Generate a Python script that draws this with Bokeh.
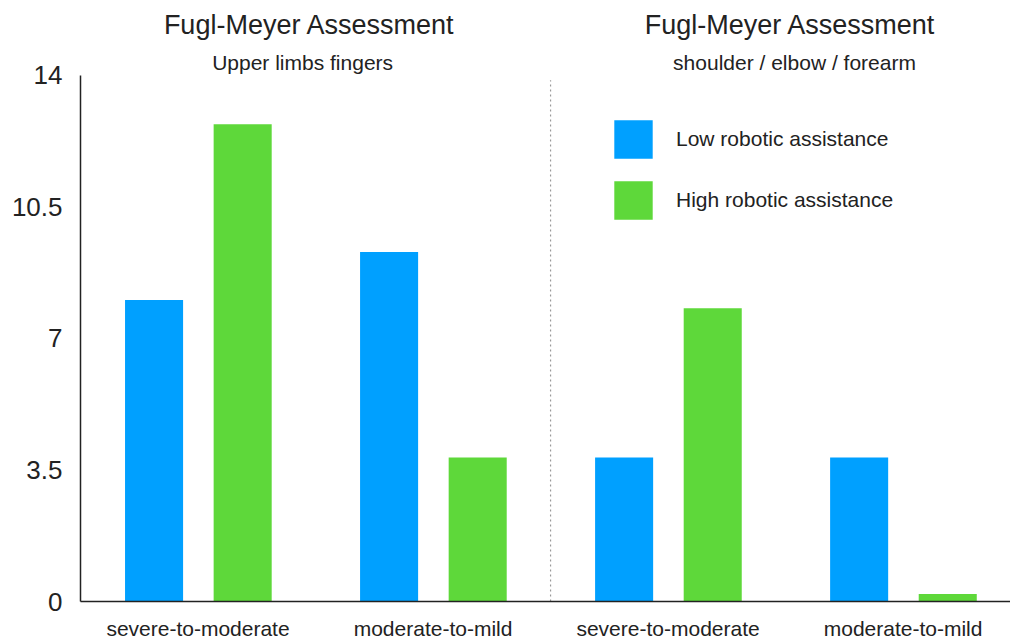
from bokeh.plotting import figure
from bokeh.models import (ColumnDataSource, Range1d, FixedTicker, Label, Legend,
                          LegendItem)
from bokeh.transform import dodge
from bokeh.embed import file_html
from bokeh.resources import INLINE

categories = ["severe-to-moderate", "moderate-to-mild",
              "severe-to-moderate", "moderate-to-mild"]
low_assist = [8.02, 9.3, 3.83, 3.83]
high_assist = [12.7, 3.83, 7.8, 0.2]
series_names = ["Low robotic assistance", "High robotic assistance"]
panel_titles = ["Fugl-Meyer Assessment", "Fugl-Meyer Assessment"]
panel_subtitles = ["Upper limbs fingers", "shoulder / elbow / forearm"]
y_ticks = [0, 3.5, 7, 10.5, 14]
y_tick_labels = ["0", "3.5", "7", "10.5", "14"]

FONT = "Liberation Sans"
TXT = "#222222"
BLUE = "#00A0FF"
GREEN = "#5ED83A"

idx = list(range(len(categories)))
src = ColumnDataSource(dict(x=idx, low=low_assist, high=high_assist))

p = figure(width=1010, height=642, output_backend="svg", toolbar_location=None,
           x_range=Range1d(-0.5, 3.457), y_range=Range1d(0, 15.99),
           min_border_left=80, min_border_right=0, min_border_top=0,
           min_border_bottom=40)
p.outline_line_color = None
p.grid.visible = False
p.background_fill_color = "white"

r_low = p.vbar(x=dodge("x", -0.187, range=p.x_range), top="low", width=0.247,
               source=src, fill_color=BLUE, line_color=None)
r_high = p.vbar(x=dodge("x", 0.19, range=p.x_range), top="high", width=0.247,
                source=src, fill_color=GREEN, line_color=None)

# separator between the two panels
p.segment(x0=[1.5], y0=[0], x1=[1.5], y1=[13.87], line_color="#999999",
          line_width=1.2, line_dash="2 3")

# axes
p.xaxis.ticker = FixedTicker(ticks=idx)
p.xaxis.major_label_overrides = {i: c for i, c in zip(idx, categories)}
p.xaxis.major_tick_line_color = None
p.xaxis.major_tick_out = 0
p.xaxis.minor_tick_line_color = None
p.xaxis.minor_tick_out = 0
p.xaxis.axis_line_color = TXT
p.xaxis.axis_line_width = 1.5
p.xaxis.major_label_text_font = FONT
p.xaxis.major_label_text_font_size = "21px"
p.xaxis.major_label_text_color = TXT
p.xaxis.major_label_standoff = 15

p.yaxis.ticker = FixedTicker(ticks=y_ticks)
p.yaxis.bounds = (0, 14)
p.yaxis.major_label_overrides = {t: l for t, l in zip(y_ticks, y_tick_labels)}
p.yaxis.major_tick_line_color = None
p.yaxis.major_tick_out = 0
p.yaxis.minor_tick_line_color = None
p.yaxis.minor_tick_out = 0
p.yaxis.axis_line_color = TXT
p.yaxis.axis_line_width = 1.5
p.yaxis.major_label_text_font = FONT
p.yaxis.major_label_text_font_size = "26px"
p.yaxis.major_label_text_color = TXT
p.yaxis.major_label_standoff = 18

# panel titles
for tx, sx, t, s in zip([0.474, 2.52], [0.445, 2.538], panel_titles, panel_subtitles):
    p.add_layout(Label(x=tx, y=15.33, text=t, text_align="center",
                       text_baseline="middle", text_font=FONT,
                       text_font_size="27px", text_color=TXT))
    p.add_layout(Label(x=sx, y=14.35, text=s, text_align="center",
                       text_baseline="middle", text_font=FONT,
                       text_font_size="21px", text_color=TXT))

legend = Legend(items=[LegendItem(label=series_names[0], renderers=[r_low]),
                       LegendItem(label=series_names[1], renderers=[r_high])],
                location=(529, 377), glyph_width=48, glyph_height=48,
                spacing=13, padding=0, margin=0, label_standoff=19,
                label_text_font=FONT, label_text_font_size="21px",
                label_text_color=TXT, border_line_alpha=0,
                background_fill_alpha=0)
p.add_layout(legend, "center")

open("out.html", "w").write(file_html(p, INLINE))
